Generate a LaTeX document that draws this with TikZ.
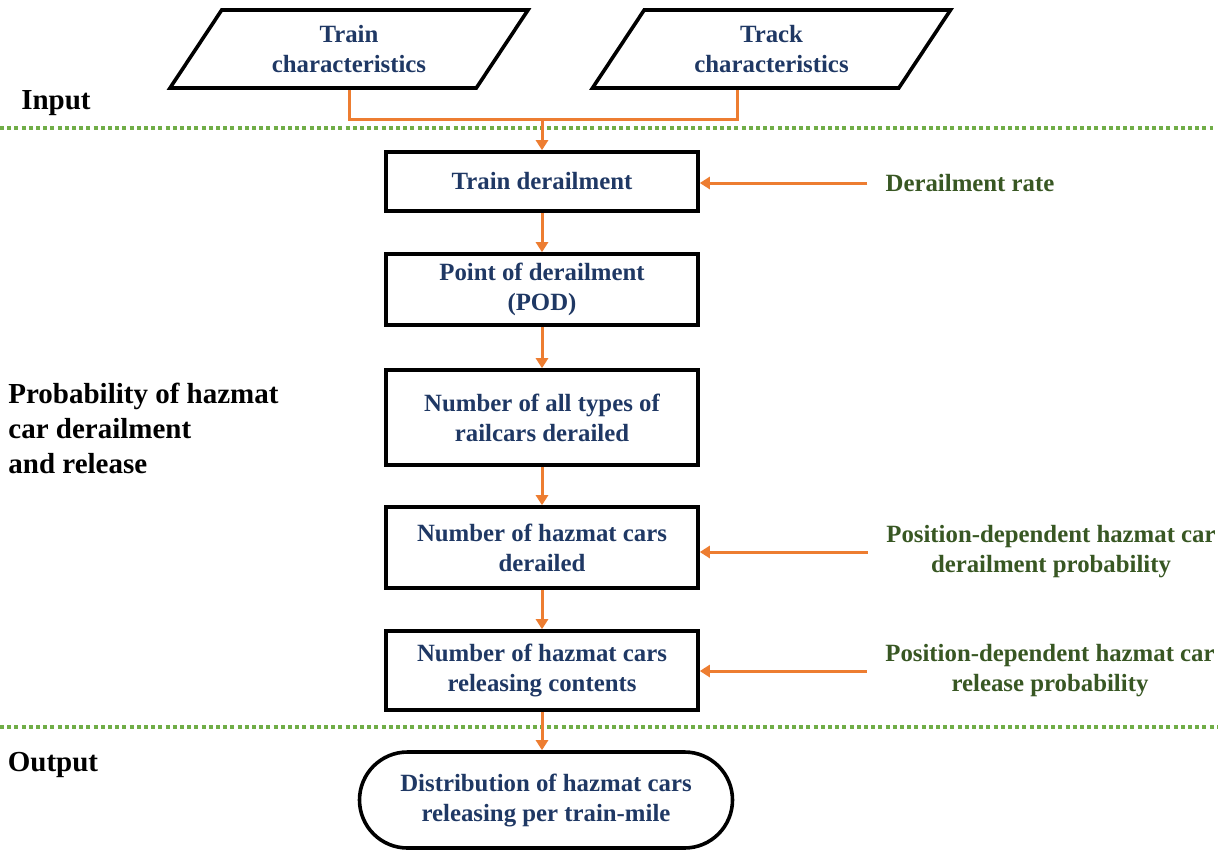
\documentclass[tikz,border=0pt]{standalone}
\usepackage{fontspec}
\setmainfont{Liberation Serif}
\usetikzlibrary{arrows.meta,shapes.geometric}

\definecolor{boxblue}{HTML}{1F3864}
\definecolor{rategreen}{HTML}{385723}
\definecolor{arcorange}{HTML}{ED7D31}
\definecolor{sepgreen}{HTML}{70AD47}

\begin{document}
\begin{tikzpicture}[x=0.5pt, y=-0.5pt,
    box/.style={draw=black, line width=1.8pt, minimum width=156pt, align=center,
      text=boxblue, font=\fontsize{12.4}{15}\selectfont\bfseries, inner sep=2pt},
    datain/.style={box, trapezium, trapezium left angle=47, trapezium right angle=133,
      trapezium stretches body, minimum width=179pt, minimum height=39pt},
    terminal/.style={box, rounded corners=24pt, minimum width=186.5pt, minimum height=48pt},
    rate/.style={align=center, text=rategreen, inner xsep=9pt,
      font=\fontsize{12.4}{15}\selectfont\bfseries},
    stage/.style={align=left, inner sep=0pt, font=\fontsize{14.5}{17.5}\selectfont\bfseries},
    arc/.style={draw=arcorange, line width=1.5pt, -{Triangle[length=5pt,width=6pt]}},
    arcline/.style={draw=arcorange, line width=1.5pt},
    sep/.style={draw=sepgreen, line width=2pt, dash pattern=on 2pt off 1.6pt}
  ]
  \useasboundingbox (0,0) rectangle (1231,852);

  % Inputs
  \node[datain] (train) at (349,49) {Train\\characteristics};
  \node[datain] (track) at (771.5,49) {Track\\characteristics};

  % Boxes
  \node[box, minimum height=29.5pt] (derail) at (542,181.5) {Train derailment};
  \node[box, minimum height=35.5pt] (pod) at (542,289.5) {Point of derailment\\(POD)};
  \node[box, minimum height=47.5pt] (allcars) at (542,417.5)
    {Number of all types of\\railcars derailed};
  \node[box, minimum height=40.5pt] (hzderail) at (542,547.5)
    {Number of hazmat cars\\derailed};
  \node[box, minimum height=39.5pt] (hzrelease) at (542,670.5)
    {Number of hazmat cars\\releasing contents};
  \node[terminal] (dist) at (546,800)
    {Distribution of hazmat cars\\releasing per train-mile};

  % Rates
  \node[rate] (drate) at (970,183) {Derailment rate};
  \node[rate] (pderail) at (1051,552) {Position-dependent hazmat car\\derailment probability};
  \node[rate] (prelease) at (1050,671) {Position-dependent hazmat car\\release probability};

  % Stages
  \node[stage] (input) at (56,103) {Input};
  \node[stage, anchor=west] (prob) at (8,428)
    {Probability of hazmat\\car derailment\\and release};
  \node[stage] (output) at (53,765) {Output};

  % Separators
  \draw[sep] (0,128) -- (1213,128);
  \draw[sep] (0,727) -- (1218,727);

  % Arcs
  \coordinate (trackleg) at ([xshift=-17pt]track.south);
  \coordinate (merge) at (542,118);
  \draw[arcline] (train.south) -- ++(0,30) -| (trackleg);
  \draw[arc] (merge) -- (derail.north);
  \draw[arc] (derail) -- (pod);
  \draw[arc] (pod) -- (allcars);
  \draw[arc] (allcars) -- (hzderail);
  \draw[arc] (hzderail) -- (hzrelease);
  \draw[arc] (hzrelease.south) -- (hzrelease.south |- dist.north);

  \draw[arc] (drate.west) -- (drate.west -| derail.east);
  \draw[arc] (pderail.west) -- (pderail.west -| hzderail.east);
  \draw[arc] (prelease.west) -- (prelease.west -| hzrelease.east);
\end{tikzpicture}
\end{document}
